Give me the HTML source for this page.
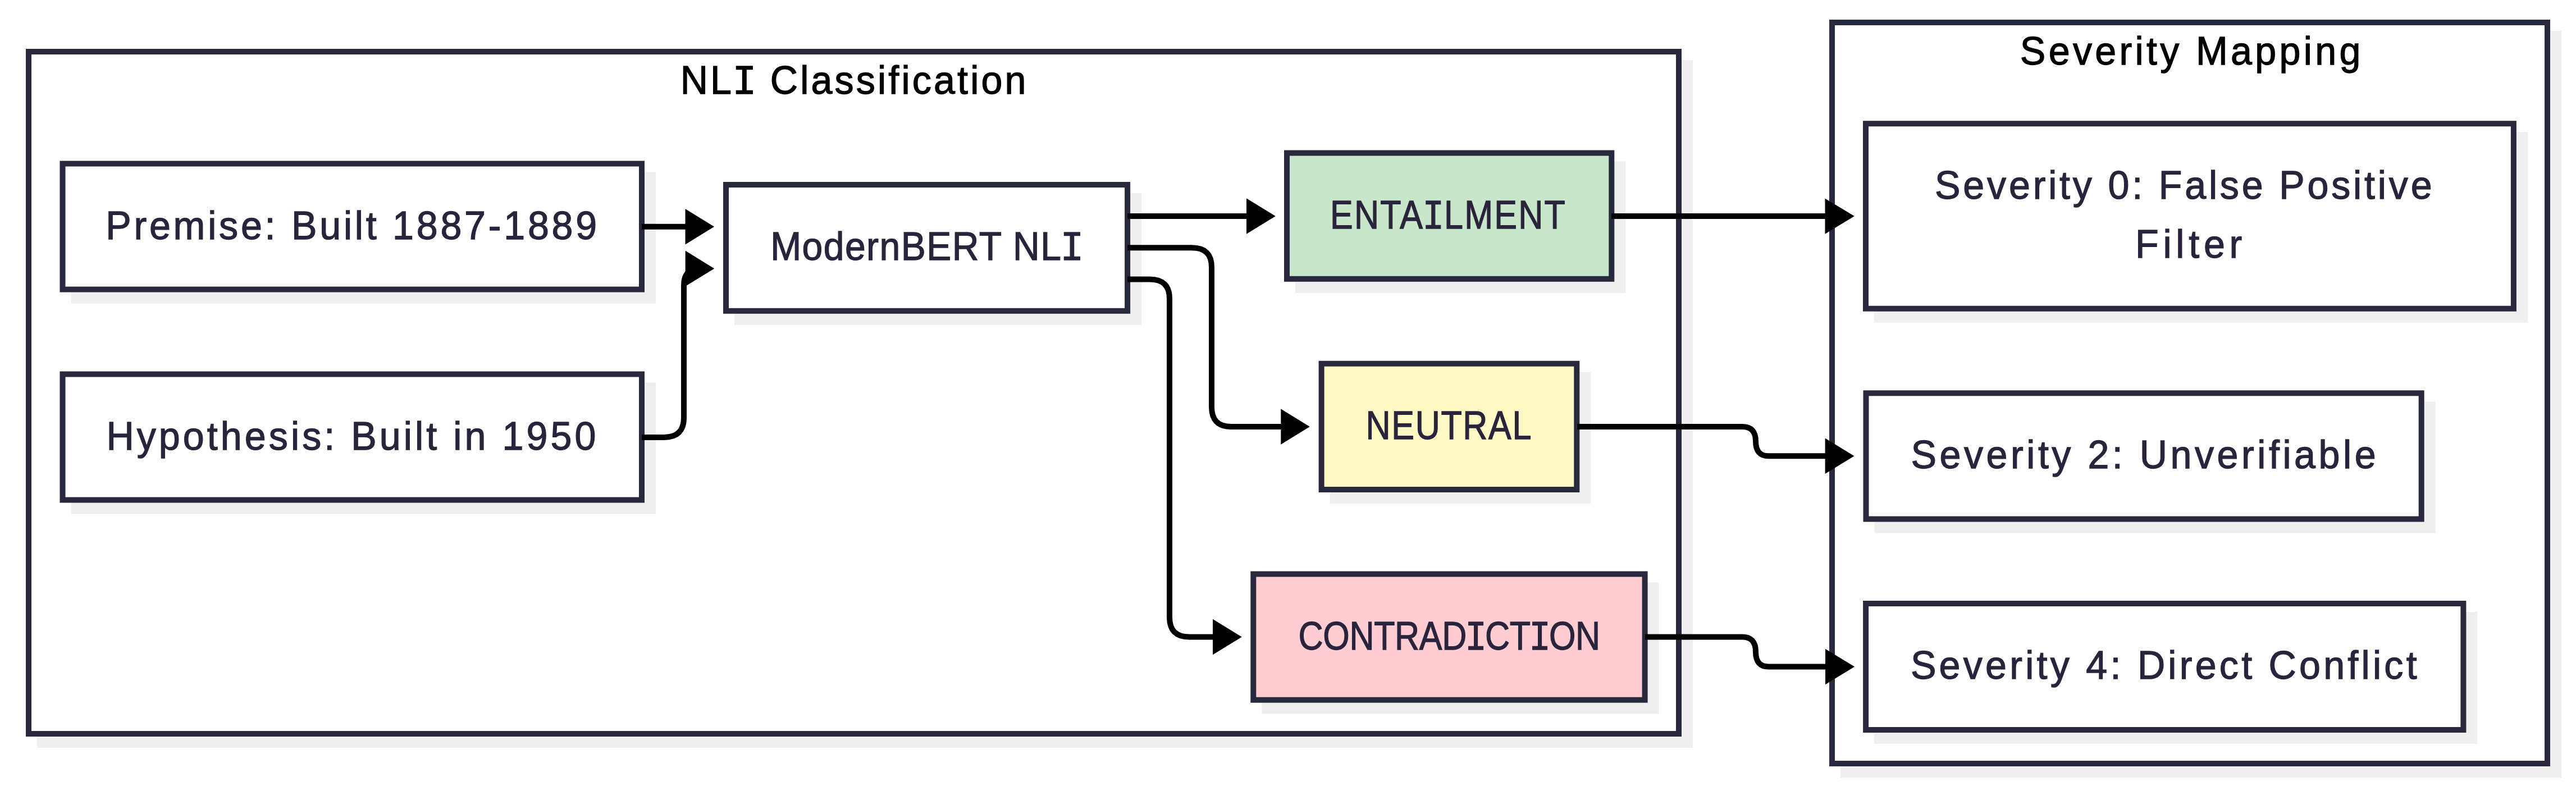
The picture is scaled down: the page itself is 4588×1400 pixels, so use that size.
<!DOCTYPE html>
<html><head><meta charset="utf-8">
<style>
html,body{margin:0;padding:0;background:#ffffff;}
svg{display:block;}
text{font-family:"Liberation Sans", sans-serif;}
.n{fill:#29243c;font-size:71px;stroke:#29243c;stroke-width:1.3px;}
.t{fill:#000000;font-size:71px;stroke:#000;stroke-width:1.3px;}
.box{stroke:#28293d;stroke-width:10;}
.sh{fill:#efefef;}
.e{fill:none;stroke:#000;stroke-width:10;}
.ah{fill:#000;}
</style></head>
<body>
<svg width="4588" height="1400" viewBox="0 0 4588 1400">
<!-- cluster shadows -->
<rect class="sh" x="66" y="107" width="2949" height="1225"/>
<rect class="sh" x="3278" y="55" width="1284" height="1330"/>
<!-- clusters -->
<rect class="box" fill="#ffffff" x="51" y="92" width="2939" height="1215"/>
<rect class="box" fill="#ffffff" x="3263" y="40" width="1274" height="1320"/>

<!-- node shadows -->
<rect class="sh" x="126.5" y="306.5" width="1041.5" height="234"/>
<rect class="sh" x="126.5" y="681.5" width="1041.5" height="234"/>
<rect class="sh" x="1308" y="344" width="725.1" height="234.8"/>
<rect class="sh" x="2307" y="287.5" width="588.3" height="234.3"/>
<rect class="sh" x="2368.6" y="662.7" width="464.7" height="234.3"/>
<rect class="sh" x="2247.3" y="1037.5" width="707.3" height="234.2"/>
<rect class="sh" x="3338" y="235.2" width="1163.9" height="339.5"/>
<rect class="sh" x="3338.5" y="715.3" width="999.2" height="234.2"/>
<rect class="sh" x="3338.1" y="1090" width="1074.3" height="235"/>

<!-- nodes -->
<rect class="box" fill="#ffffff" x="111.5" y="291.5" width="1031.5" height="224"/>
<rect class="box" fill="#ffffff" x="111.5" y="666.5" width="1031.5" height="224"/>
<rect class="box" fill="#ffffff" x="1293" y="329" width="715.1" height="224.8"/>
<rect class="box" fill="#c8e6c9" x="2292" y="272.5" width="578.3" height="224.3"/>
<rect class="box" fill="#fff9c4" x="2353.6" y="647.7" width="454.7" height="224.3"/>
<rect class="box" fill="#ffcdd2" x="2232.3" y="1022.5" width="697.3" height="224.2"/>
<rect class="box" fill="#ffffff" x="3323" y="220.2" width="1153.9" height="329.5"/>
<rect class="box" fill="#ffffff" x="3323.5" y="700.3" width="989.2" height="224.2"/>
<rect class="box" fill="#ffffff" x="3323.1" y="1075" width="1064.3" height="225"/>

<!-- edges -->
<path class="e" d="M1143 403.8 L1222 403.8"/>
<polygon class="ah" points="1220.5,372.1 1272.0,403.8 1220.5,435.5"/>
<path class="e" d="M1143 778.9 L1183 778.9 Q1218 778.9 1218 743.9 L1218 508 Q1218 478.3 1246 478.3"/>
<polygon class="ah" points="1220.6,446.6 1272.2,478.3 1220.6,510.0"/>
<path class="e" d="M2008 385 L2222 385"/>
<polygon class="ah" points="2220.0,353.3 2271.8,385.0 2220.0,416.7"/>
<path class="e" d="M2008 441.3 L2123 441.3 Q2158 441.3 2158 476 L2158 725 Q2158 760 2193 760 L2283 760"/>
<polygon class="ah" points="2281.3,728.3 2332.8,760.0 2281.3,791.7"/>
<path class="e" d="M2008 497.5 L2048 497.5 Q2083 497.5 2083 532 L2083 1099.5 Q2083 1134.5 2118 1134.5 L2162 1134.5"/>
<polygon class="ah" points="2160.0,1102.8 2211.8,1134.5 2160.0,1166.2"/>
<path class="e" d="M2870 385.1 L3252 385.1"/>
<polygon class="ah" points="3250.5,353.4 3302.8,385.1 3250.5,416.8"/>
<path class="e" d="M2809 760 L3103 760 Q3127 760 3127 786 Q3127 812.3 3150 812.3 L3253 812.3"/>
<polygon class="ah" points="3250.6,780.6 3302.5,812.3 3250.6,844.0"/>
<path class="e" d="M2930 1134.6 L3103 1134.6 Q3127 1134.6 3127 1161 Q3127 1187.5 3150 1187.5 L3253 1187.5"/>
<polygon class="ah" points="3251.0,1155.8 3303.1,1187.5 3251.0,1219.2"/>

<text class="t" transform="translate(1521.60 0) scale(0.9600 1)" x="0" y="167.5" text-anchor="middle" letter-spacing="4.34">NL<tspan font-family="Liberation Mono" font-size="75" dx="-3">I</tspan><tspan font-family="Liberation Sans" font-size="71" dx="-3"> </tspan>Classification</text>
<text class="t" transform="translate(3903.80 0) scale(0.9600 1)" x="0" y="115.5" text-anchor="middle" letter-spacing="5.56">Severity Mapping</text>
<text class="n" transform="translate(628.10 0) scale(0.9600 1)" x="0" y="426.0" text-anchor="middle" letter-spacing="4.97">Premise: Built 1887-1889</text>
<text class="n" transform="translate(627.90 0) scale(0.9600 1)" x="0" y="801.0" text-anchor="middle" letter-spacing="5.29">Hypothesis: Built in 1950</text>
<text class="n" transform="translate(1652.00 0) scale(0.9300 1)" x="0" y="463.0" text-anchor="middle" letter-spacing="1.57">ModernBERT NL<tspan font-family="Liberation Mono" font-size="75" dx="-3">I</tspan></text>
<text class="n" transform="translate(2579.50 0) scale(0.8600 1)" x="0" y="407.2" text-anchor="middle" letter-spacing="2.58">ENTA<tspan font-family="Liberation Mono" font-size="75" dx="-3">I</tspan><tspan font-family="Liberation Sans" font-size="71" dx="-3">L</tspan>MENT</text>
<text class="n" transform="translate(2580.80 0) scale(0.8600 1)" x="0" y="782.5" text-anchor="middle" letter-spacing="1.91">NEUTRAL</text>
<text class="n" transform="translate(2581.20 0) scale(0.8600 1)" x="0" y="1157.1" text-anchor="middle" letter-spacing="-0.42">CONTRAD<tspan font-family="Liberation Mono" font-size="75" dx="-3">I</tspan><tspan font-family="Liberation Sans" font-size="71" dx="-3">C</tspan>T<tspan font-family="Liberation Mono" font-size="75" dx="-3">I</tspan><tspan font-family="Liberation Sans" font-size="71" dx="-3">O</tspan>N</text>
<text class="n" transform="translate(3891.20 0) scale(0.9600 1)" x="0" y="354.5" text-anchor="middle" letter-spacing="5.02">Severity 0: False Positive</text>
<text class="n" transform="translate(3902.00 0) scale(0.9600 1)" x="0" y="459.5" text-anchor="middle" letter-spacing="8.08">Filter</text>
<text class="n" transform="translate(3820.30 0) scale(0.9600 1)" x="0" y="834.0" text-anchor="middle" letter-spacing="5.77">Severity 2: Unverifiable</text>
<text class="n" transform="translate(3856.40 0) scale(0.9600 1)" x="0" y="1209.5" text-anchor="middle" letter-spacing="5.48">Severity 4: Direct Conflict</text>
</svg>
</body></html>
